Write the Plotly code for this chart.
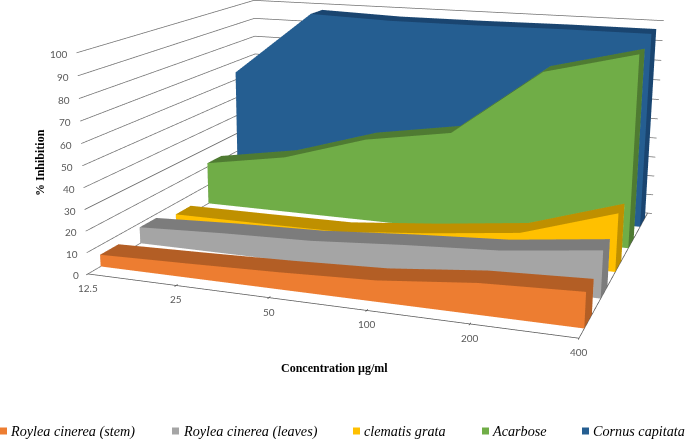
import plotly.graph_objects as go

W, H = 685, 439
concentrations = ["12.5", "25", "50", "100", "200", "400"]
series_names = ["Roylea cinerea (stem)", "Roylea cinerea (leaves)", "clematis grata", "Acarbose", "Cornus capitata"]
stem = [5.6, 6.6, 7.8, 9.5, 13.8, 15.5]
leaves = [8, 9.8, 11, 14, 16.4, 21.5]
clematis = [4.2, 4.3, 4.6, 8.6, 13.6, 27.5]
acarbose = [22, 29, 42, 49, 82, 93]
cornus = [64, 98, 96.6, 96.6, 97, 97]
series_values = [stem, leaves, clematis, acarbose, cornus]
face_colors = ["#ED7D31", "#A5A5A5", "#FFC000", "#70AD47", "#255E91"]
top_colors = ["#B35E25", "#7C7C7C", "#BF9000", "#4F7B32", "#1A4570"]
z_ticks = list(range(0, 101, 10))

# The scene is larger than the window so that plotly's fixed 45 degree lens gives the flat perspective of the reference
VW, VH, ox, oy = 705, 1114, -10, -381
eye = dict(x=0.890, y=-2.662, z=0.663)
center = dict(x=-0.052, y=-0.144, z=-0.048)
up = dict(x=0.002, y=0, z=1)
# axis ranges carry a small pad so marks on the box faces are not clipped; the aspect ratio is scaled to match
PAD_XY, PAD_Z = 0.1, 1.0
aspect = dict(x=1*(5+2*PAD_XY)/5, y=0.841*(5+2*PAD_XY)/5, z=0.453*(100+2*PAD_Z)/100)

def X(px): return (px-ox)/VW
def Y(py): return 1-(py-oy)/VH

def ribbon(values, depth, face, top):
    y0, y1 = depth+0.3, depth+0.75
    xs,ys,zs,I,J,K,C=[],[],[],[],[],[],[]
    def quad(corners,col):
        n=len(xs)
        for cx,cy,cz in corners:
            xs.append(cx);ys.append(cy);zs.append(cz)
        I.extend([n,n]);J.extend([n+1,n+2]);K.extend([n+2,n+3]);C.extend([col,col])
    for i in range(len(values)-1):
        v,w=values[i],values[i+1]
        quad([(i,y0,0),(i,y0,v),(i+1,y0,w),(i+1,y0,0)],face)
        quad([(i,y0,v),(i,y1,v),(i+1,y1,w),(i+1,y0,w)],top)
        quad([(i,y1,0),(i,y1,v),(i+1,y1,w),(i+1,y1,0)],face)
    e=len(values)-1
    quad([(e,y0,0),(e,y0,values[e]),(e,y1,values[e]),(e,y1,0)],top)
    quad([(0,y0,0),(0,y0,values[0]),(0,y1,values[0]),(0,y1,0)],top)
    return go.Mesh3d(x=xs,y=ys,z=zs,i=I,j=J,k=K,facecolor=C,flatshading=True,
        lighting=dict(ambient=1,diffuse=0,specular=0,fresnel=0,roughness=1),hoverinfo="skip",showlegend=False)

fig=go.Figure()
for d,(vals,fc,tc) in enumerate(zip(series_values,face_colors,top_colors)):
    fig.add_trace(ribbon(vals,d,fc,tc))
nc=len(concentrations)-1; nd=len(series_names)
lx,ly,lz=[],[],[]
for z in z_ticks:
    lx+=[0,0,nc,nc+0.05,None];ly+=[0,nd,nd,nd,None];lz+=[z,z,z,z,None]
fig.add_trace(go.Scatter3d(x=lx,y=ly,z=lz,mode="lines",line=dict(color="#707070",width=1.5),hoverinfo="skip",showlegend=False))
ax,ay,az=[0,nc,nc,None],[0,0,nd,None],[0,0,0,None]
for i in range(nc+1):
    ax+=[i,i,None];ay+=[-0.04,0.04,None];az+=[0,0,None]
fig.add_trace(go.Scatter3d(x=ax,y=ay,z=az,mode="lines",line=dict(color="#555555",width=1.5),hoverinfo="skip",showlegend=False))

tick_font=dict(family="Lato",size=10,color="#595959")
ann3d=[dict(x=0,y=0,z=z,text=str(z),showarrow=False,xanchor="right",yanchor="middle",xshift=-7,yshift=-1,font=tick_font) for z in z_ticks]
ann3d+=[dict(x=i,y=0,z=0,text=t,showarrow=False,xanchor="center",yanchor="top",yshift=-6,font=tick_font) for i,t in enumerate(concentrations)]
hide=dict(visible=False,showgrid=False,zeroline=False,showline=False,showticklabels=False,showbackground=False,showspikes=False)
fig.update_layout(width=VW,height=VH,margin=dict(l=0,r=0,t=0,b=0),paper_bgcolor="white",showlegend=False,
  scene=dict(domain=dict(x=[0,1],y=[0,1]),aspectmode="manual",aspectratio=aspect,
    camera=dict(eye=eye,center=center,up=up,projection=dict(type="perspective")),
    xaxis=dict(range=[-PAD_XY,nc+PAD_XY],**hide),yaxis=dict(range=[-PAD_XY,nd+PAD_XY],**hide),zaxis=dict(range=[-PAD_Z,100+PAD_Z],**hide),
    annotations=ann3d))
ann=[dict(xref="paper",yref="paper",x=X(40),y=Y(163),xanchor="center",yanchor="middle",text="<b>% Inhibition</b>",textangle=-90,showarrow=False,font=dict(family="Liberation Serif",size=12,color="black")),
     dict(xref="paper",yref="paper",x=X(334),y=Y(368),xanchor="center",yanchor="middle",text="<b>Concentration µg/ml</b>",showarrow=False,font=dict(family="Liberation Serif",size=12,color="black"))]
shapes=[]
for name,col,mx,tx in zip(series_names,face_colors,[0,172,353,482,582],[8,181,362,490,591]):
    shapes.append(dict(type="rect",xref="paper",yref="paper",x0=X(mx),x1=X(mx+7),y0=Y(434.5),y1=Y(427.5),fillcolor=col,line=dict(width=0),layer="above"))
    ann.append(dict(xref="paper",yref="paper",x=X(tx),y=Y(431),xanchor="left",yanchor="middle",text="<i>%s</i>"%name,showarrow=False,font=dict(family="Liberation Serif",size=14.2,color="black")))
fig.update_layout(annotations=ann,shapes=shapes)
post=("document.documentElement.style.overflow='hidden';document.body.style.margin='0';document.body.style.overflow='hidden';"
      "var g=document.getElementsByClassName('plotly-graph-div')[0];g.style.position='absolute';g.style.left='%dpx';g.style.top='%dpx';"%(ox,oy))
fig.write_html("out.html",post_script=post)
